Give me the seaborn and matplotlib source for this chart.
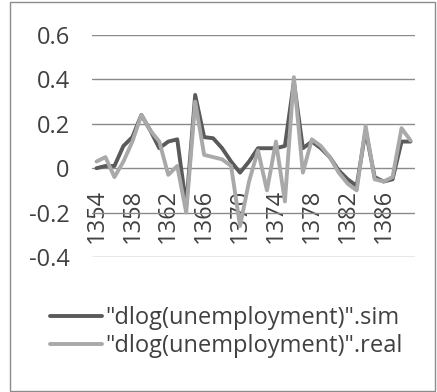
import matplotlib
matplotlib.use("Agg")
import matplotlib.pyplot as plt
from matplotlib.lines import Line2D
from matplotlib.patches import Rectangle
import numpy as np
import pandas as pd
import seaborn as sns

# Annual series, 1354-1389
years = list(range(1354, 1390))
sim = [0.00, 0.01, 0.01, 0.10, 0.14, 0.24, 0.17, 0.09, 0.12, 0.13,
       -0.17, 0.33, 0.14, 0.135, 0.09, 0.03, -0.02, 0.03, 0.09, 0.09,
       0.09, 0.10, 0.39, 0.09, 0.12, 0.09, 0.05, -0.01, -0.05, -0.08,
       0.17, -0.04, -0.06, -0.05, 0.12, 0.12]
real = [0.03, 0.05, -0.04, 0.03, 0.12, 0.24, 0.17, 0.12, -0.03, 0.01,
        -0.20, 0.30, 0.06, 0.05, 0.04, 0.01, -0.26, -0.06, 0.08, -0.10,
        0.12, -0.15, 0.41, -0.02, 0.13, 0.10, 0.05, -0.02, -0.07, -0.10,
        0.19, -0.05, -0.06, -0.04, 0.18, 0.125]
series_names = ['"dlog(unemployment)".sim', '"dlog(unemployment)".real']
tick_years = [1354, 1358, 1362, 1366, 1370, 1374, 1378, 1382, 1386]
y_ticks = [0.6, 0.4, 0.2, 0.0, -0.2, -0.4]
y_labels = ["0.6", "0.4", "0.2", "0", "-0.2", "-0.4"]

colors = ["#5a5a5a", "#a9a9a9"]
text_color = "#404040"

pos = list(range(len(years)))
df = pd.DataFrame({
    "pos": pos + pos,
    "value": sim + real,
    "series": [series_names[0]] * len(years) + [series_names[1]] * len(years),
})

sns.set_style("white")
plt.rcParams["font.family"] = ["Open Sans", "DejaVu Sans"]

W, H = 437, 392
fig = plt.figure(figsize=(W / 100, H / 100), dpi=100)
fig.patch.set_facecolor("white")
ax = fig.add_axes([92 / W, 1 - 257 / H, (415 - 92) / W, (257 - 35) / H])

sns.lineplot(data=df, x="pos", y="value", hue="series", palette=colors,
             linewidth=2.8, ax=ax, legend=False, zorder=3)

ax.set_xlim(-0.5, len(years) - 0.5)
ax.set_ylim(-0.4, 0.6)
ax.set_xlabel("")
ax.set_ylabel("")

ax.yaxis.grid(True, color="#8a8a8a", linewidth=1.0)
ax.xaxis.grid(False)
for side in ["top", "right", "left"]:
    ax.spines[side].set_visible(False)
# category labels sit on the zero line
ax.spines["bottom"].set_position(("data", 0))
ax.spines["bottom"].set_visible(False)

ax.set_yticks(y_ticks)
ax.set_yticklabels(y_labels)
ax.set_xticks([years.index(y) for y in tick_years])
ax.set_xticklabels([str(y) for y in tick_years])
ax.tick_params(axis="both", length=0, labelsize=17, labelcolor=text_color)
ax.tick_params(axis="x", pad=15, labelrotation=90)
ax.tick_params(axis="y", pad=16)

handles = [Line2D([0], [0], color=c, linewidth=2.8) for c in colors]
fig.legend(handles, series_names, loc="center left",
           bbox_to_anchor=(50 / W, 1 - 332 / H), frameon=False,
           fontsize=17, labelcolor=text_color, handlelength=2.2,
           handletextpad=0.12, labelspacing=0.15, borderpad=0,
           borderaxespad=0)

fig.patches.append(Rectangle((10 / W, 1.5 / H), (435 - 10) / W, (390 - 1.5) / H,
                             transform=fig.transFigure, fill=False,
                             edgecolor="#8c8c8c", linewidth=1.0))

fig.savefig("out.png", dpi=100)
